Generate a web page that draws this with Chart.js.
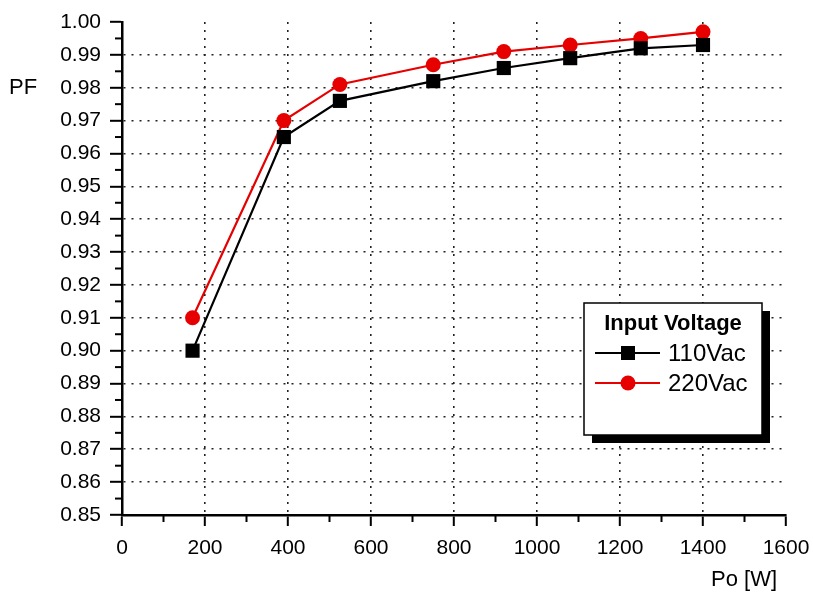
<!DOCTYPE html>
<html>
<head>
<meta charset="utf-8">
<script src="https://cdn.jsdelivr.net/npm/chart.js@4/dist/chart.umd.min.js"></script>
<style>
  html, body { margin: 0; padding: 0; background: #fff; }
  #wrap { width: 813px; height: 593px; }
</style>
</head>
<body>
<div id="wrap"><canvas id="c" width="813" height="593"></canvas></div>
<script>
// Output power (W) and measured power factor at two input voltages
const powerW = [170, 390, 525, 750, 920, 1080, 1250, 1400];
const pf110 = [0.900, 0.965, 0.976, 0.982, 0.986, 0.989, 0.992, 0.993];
const pf220 = [0.910, 0.970, 0.981, 0.987, 0.991, 0.993, 0.995, 0.997];
const seriesLabels = ['110Vac', '220Vac'];
const legendTitle = 'Input Voltage';
const xTitle = 'Po [W]';
const yTitle = 'PF';

const FONT = '"Liberation Sans", Arial, Helvetica, sans-serif';
const RED = '#e60000';

const toPoints = (ys) => powerW.map((x, i) => ({ x, y: ys[i] }));

// short minor ticks between the labelled ones, plus axis titles and boxed legend
const extras = {
  id: 'extras',
  afterDraw(chart) {
    const { ctx, chartArea: a, scales: { x, y } } = chart;
    ctx.save();
    ctx.strokeStyle = '#000';
    ctx.lineWidth = 2;
    for (let v = 100; v < 1600; v += 200) {
      const px = x.getPixelForValue(v);
      ctx.beginPath(); ctx.moveTo(px, a.bottom); ctx.lineTo(px, a.bottom + 7); ctx.stroke();
    }
    for (let k = 0; k < 15; k++) {
      const py = y.getPixelForValue(0.855 + k * 0.01);
      ctx.beginPath(); ctx.moveTo(a.left, py); ctx.lineTo(a.left - 7, py); ctx.stroke();
    }

    ctx.fillStyle = '#000';
    ctx.textBaseline = 'middle';
    ctx.font = '22px ' + FONT;
    ctx.textAlign = 'left';
    ctx.fillText(yTitle, 9, 88);
    ctx.font = '22px ' + FONT;
    ctx.textAlign = 'center';
    ctx.fillText(xTitle, 744, 580);

    // legend box with drop shadow
    const bx = 584, by = 303, bw = 178, bh = 132, sh = 8;
    ctx.fillStyle = '#000';
    ctx.fillRect(bx + sh, by + sh, bw, bh);
    ctx.fillStyle = '#fff';
    ctx.fillRect(bx, by, bw, bh);
    ctx.lineWidth = 1.5;
    ctx.strokeRect(bx, by, bw, bh);

    ctx.fillStyle = '#000';
    ctx.font = 'bold 22px ' + FONT;
    ctx.textAlign = 'center';
    ctx.fillText(legendTitle, bx + 89, by + 21);

    chart.data.datasets.forEach((ds, i) => {
      const ly = by + 50 + i * 30;
      ctx.strokeStyle = ds.borderColor;
      ctx.lineWidth = 2.2;
      ctx.beginPath(); ctx.moveTo(bx + 11, ly); ctx.lineTo(bx + 76, ly); ctx.stroke();
      ctx.fillStyle = ds.pointBackgroundColor;
      if (ds.pointStyle === 'rect') {
        ctx.fillRect(bx + 44 - 7, ly - 7, 14, 14);
      } else {
        ctx.beginPath(); ctx.arc(bx + 44, ly, 7.5, 0, Math.PI * 2); ctx.fill();
      }
      ctx.fillStyle = '#000';
      ctx.font = '24px ' + FONT;
      ctx.textAlign = 'left';
      ctx.fillText(ds.label, bx + 84, ly + 1);
    });
    ctx.restore();
  }
};

const near = (a, b) => Math.abs(a - b) < 1e-6;

new Chart(document.getElementById('c'), {
  type: 'scatter',
  data: {
    datasets: [
      {
        label: seriesLabels[0],
        data: toPoints(pf110),
        showLine: true,
        borderColor: '#000',
        borderWidth: 2.2,
        pointStyle: 'rect',
        pointRadius: 10,
        pointHoverRadius: 10,
        pointBackgroundColor: '#000',
        pointBorderColor: '#000',
        pointBorderWidth: 0
      },
      {
        label: seriesLabels[1],
        data: toPoints(pf220),
        showLine: true,
        borderColor: RED,
        borderWidth: 2.2,
        pointStyle: 'circle',
        pointRadius: 7.5,
        pointHoverRadius: 7.5,
        pointBackgroundColor: RED,
        pointBorderColor: RED,
        pointBorderWidth: 0
      }
    ]
  },
  options: {
    responsive: false,
    animation: false,
    layout: { autoPadding: false, padding: { left: 0, right: 27, top: 22, bottom: 0 } },
    plugins: { legend: { display: false }, tooltip: { enabled: false } },
    scales: {
      x: {
        type: 'linear',
        min: 0, max: 1600,
        afterFit(s) { s.height = 78; s.paddingLeft = 0; s.paddingRight = 0; },
        ticks: {
          stepSize: 200,
          color: '#000',
          padding: 10,
          font: { family: FONT, size: 21 },
          callback: (v) => String(v)
        },
        grid: {
          color: (c) => (c.tick && (near(c.tick.value, 0) || near(c.tick.value, 1600))) ? 'rgba(0,0,0,0)' : '#222',
          lineWidth: 1.6,
          tickColor: '#000',
          tickWidth: 2,
          tickLength: 11
        },
        border: { display: true, color: '#000', width: 2.5, dash: [2, 6] }
      },
      y: {
        type: 'linear',
        min: 0.85, max: 1.0,
        afterFit(s) { s.width = 122; s.paddingTop = 0; s.paddingBottom = 0; },
        ticks: {
          stepSize: 0.01,
          color: '#000',
          padding: 9,
          font: { family: FONT, size: 21 },
          callback: (v) => Number(v).toFixed(2)
        },
        grid: {
          color: (c) => (c.tick && (near(c.tick.value, 0.85) || near(c.tick.value, 1.0))) ? 'rgba(0,0,0,0)' : '#222',
          lineWidth: 1.6,
          tickColor: '#000',
          tickWidth: 2,
          tickLength: 12
        },
        border: { display: true, color: '#000', width: 2.5, dash: [2, 6] }
      }
    }
  },
  plugins: [extras]
});
</script>
</body>
</html>
